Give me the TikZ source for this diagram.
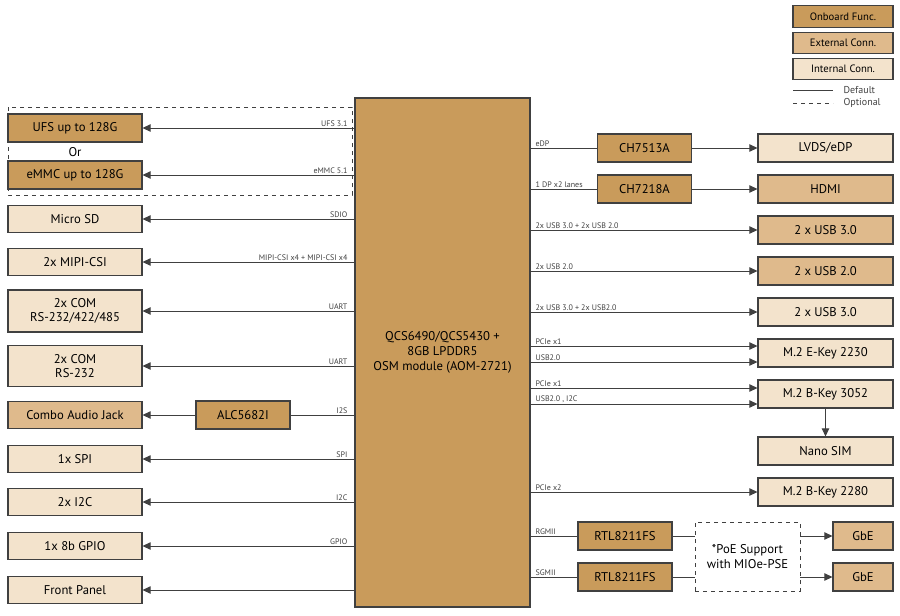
\documentclass[tikz,border=0pt]{standalone}
\usepackage{fontspec}
\setmainfont{PT Sans}
\usetikzlibrary{arrows.meta}
\definecolor{onb}{HTML}{C99B5B}
\definecolor{ext}{HTML}{DFBA8C}
\definecolor{int}{HTML}{F3E3CC}
\definecolor{ln}{HTML}{404040}
\begin{document}
\begin{tikzpicture}[x=0.75pt,y=-0.75pt,
 box/.style={draw=ln,line width=0.8pt,minimum height=21pt,inner sep=0pt,font=\fontsize{9.5}{11}\selectfont},
 lb/.style={font=\fontsize{6}{7}\selectfont,inner sep=1pt,text=ln},
 ar/.style={draw=ln,line width=0.6pt,-{Triangle[length=6pt,width=5.5pt]}},
 pl/.style={draw=ln,line width=0.6pt}]
\useasboundingbox (0,0) rectangle (900,615);
% legend
\foreach \n/\c/\t/\y in {lo/onb/Onboard Func./16.5,le/ext/External Conn./43,li/int/Internal Conn./69}
  \node[box,fill=\c,minimum width=75pt,minimum height=16pt,font=\fontsize{8}{9}\selectfont] (\n) at (843,\y) {\t};
\coordinate (d1) at (793,90); \coordinate (d2) at (833,90);
\coordinate (o1) at (793,103); \coordinate (o2) at (833,103);
\draw[pl] (d1)--(d2); \draw[pl,dashed] (o1)--(o2);
\node[lb,anchor=west,font=\fontsize{7.5}{8}\selectfont] (tdef) at (842,90) {Default};
\node[lb,anchor=west,font=\fontsize{7.5}{8}\selectfont] (topt) at (842,103) {Optional};
% main
\node[draw=ln,fill=onb,line width=0.8pt,minimum width=131.25pt,minimum height=381.75pt,inner sep=0pt,align=center,font=\fontsize{9.5}{11}\selectfont] (m) at (442.5,352.5) {QCS6490/QCS5430 +\\8GB LPDDR5\\OSM module (AOM-2721)};
% left
\draw[dashed,ln,line width=0.6pt] (8,107) rectangle (352,195);
\foreach \n/\c/\t/\y/\h in {ufs/onb/UFS up to 128G/128/21,emmc/onb/eMMC up to 128G/175/21,sd/int/Micro SD/219/20,mipi/int/2x MIPI-CSI/262/20,coma/int/{2x COM\\RS-232/422/485}/311/31.5,comb/int/{2x COM\\RS-232}/366/31,aud/ext/Combo Audio Jack/415/20,spi/int/1x SPI/459/20,i2c/int/2x I2C/502/20,gpio/int/1x 8b GPIO/546/20,fp/int/Front Panel/590/20}
  \node[box,fill=\c,minimum width=100.5pt,minimum height=\h pt,align=center] (\n) at (75,\y) {\t};
\node[font=\fontsize{9.5}{11}\selectfont] (or) at (75,152) {Or};
\node[box,fill=onb,minimum width=70.5pt] (alc) at (243,415) {ALC5682I};
\foreach \n/\t/\y in {ufs/UFS 3.1/128,emmc/eMMC 5.1/175,sd/SDIO/219,mipi/MIPI-CSI x4 + MIPI-CSI x4/262,coma/UART/311,comb/UART/366,spi/SPI/459,i2c/I2C/502,gpio/GPIO/546,fp//590}{
  \draw[ar] (m.west|-0,\y) -- (\n.east|-0,\y);
  \node[lb,anchor=south east] at (349,\y) {\t};}
\draw[pl] (m.west|-0,415) -- (alc.east);
\node[lb,anchor=south east] at (349,415) {I2S};
\draw[ar] (alc.west) -- (aud.east);
% right
\node[box,fill=onb,minimum width=70.5pt] (ch1) at (644.5,148) {CH7513A};
\node[box,fill=onb,minimum width=70.5pt] (ch2) at (644.5,189) {CH7218A};
\foreach \n/\c/\t/\y in {lvds/int/LVDS\slash eDP/148,hdmi/ext/HDMI/189,usba/ext/2 x USB 3.0/230,usbb/ext/2 x USB 2.0/271,usbc/int/2 x USB 3.0/312,mE/int/M.2 E-Key 2230/353,mB/int/M.2 B-Key 3052/394,sim/int/Nano SIM/451,mB2/int/M.2 B-Key 2280/492}
  \node[box,fill=\c,minimum width=101.25pt] (\n) at (825.5,\y) {\t};
\draw[pl] (m.east|-ch1) -- (ch1.west); \draw[ar] (ch1) -- (lvds);
\draw[pl] (m.east|-ch2) -- (ch2.west); \draw[ar] (ch2) -- (hdmi);
\node[lb,anchor=south west] at (534,148) {eDP};
\node[lb,anchor=south west] at (534,189) {1 DP x2 lanes};
\foreach \n/\t/\y in {usba/2x USB 3.0 + 2x USB 2.0/230,usbb/2x USB 2.0/271,usbc/2x USB 3.0 + 2x USB2.0/312,mE/PCIe x1/346,mE/USB2.0/362,mB/PCIe x1/388,mB/{USB2.0 , I2C}/404,mB2/PCIe x2/492}{
  \draw[ar] (m.east|-0,\y) -- (\n.west|-0,\y);
  \node[lb,anchor=south west] at (534,\y) {\t};}
\draw[ar] (mB) -- (sim);
\node[box,fill=onb,minimum width=70.5pt] (r1) at (625,536) {RTL8211FS};
\node[box,fill=onb,minimum width=70.5pt] (r2) at (625,577) {RTL8211FS};
\node[draw=ln,dashed,line width=0.7pt,minimum width=78.75pt,minimum height=51.75pt,align=center,inner sep=0pt,font=\fontsize{9.5}{11}\selectfont] (poe) at (747.5,556.5) {*PoE Support\\with MIOe-PSE};
\node[box,fill=ext,minimum width=45pt] (g1) at (863,536) {GbE};
\node[box,fill=ext,minimum width=45pt] (g2) at (863,577) {GbE};
\draw[pl] (m.east|-r1) -- (r1.west); \draw[pl] (m.east|-r2) -- (r2.west);
\node[lb,anchor=south west] at (534,536) {RGMII};
\node[lb,anchor=south west] at (534,577) {SGMII};
\draw[pl] (r1.east) -- (poe.west|-r1); \draw[pl] (r2.east) -- (poe.west|-r2);
\draw[ar] (poe.east|-g1) -- (g1.west); \draw[ar] (poe.east|-g2) -- (g2.west);
\end{tikzpicture}
\end{document}
